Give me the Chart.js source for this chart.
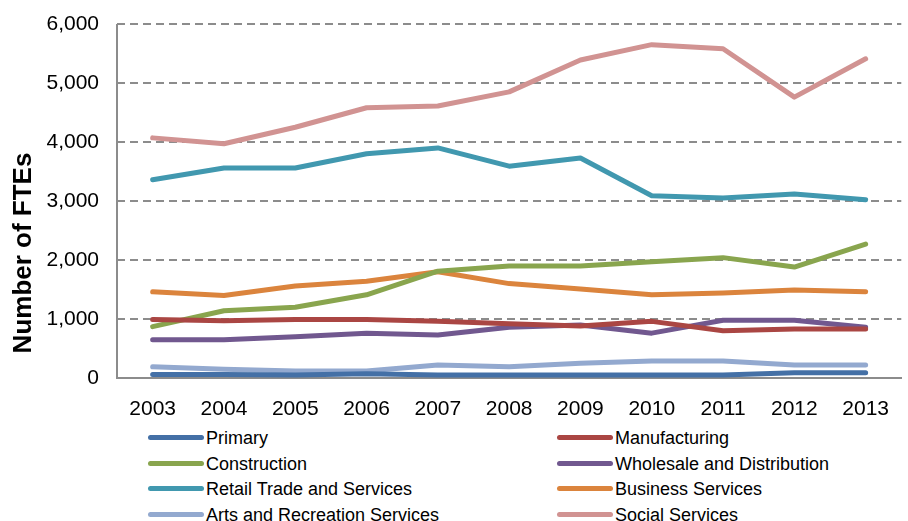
<!DOCTYPE html>
<html>
<head>
<meta charset="utf-8">
<script src="https://cdn.jsdelivr.net/npm/chart.js@4.4.0/dist/chart.umd.min.js"></script>
<style>
  body { margin: 0; background: #fff; font-family: "Liberation Sans", Arial, sans-serif; }
  #wrap { position: relative; width: 908px; height: 521px; }
  #chartBox { position: absolute; left: 0; top: 0; width: 908px; height: 420px; }
  #legend { position: absolute; left: 0; top: 428px; width: 908px; }
  .item { position: absolute; height: 20px; font-size: 18px; color: #000; white-space: nowrap; }
  .item span.swatch { position: absolute; left: 0; top: 7px; width: 56px; height: 5px; border-radius: 3px; }
  .item span.txt { position: absolute; left: 58px; top: 0; line-height: 20px; }
</style>
</head>
<body>
<div id="wrap">
  <div id="chartBox"><canvas id="myChart"></canvas></div>
  <div id="legend"></div>
</div>
<script>
// years on the x axis
const years = ['2003','2004','2005','2006','2007','2008','2009','2010','2011','2012','2013'];

// series values (FTEs)
const primary       = [60, 60, 50, 70, 50, 50, 50, 50, 50, 90, 90];
const manufacturing = [990, 970, 990, 990, 960, 920, 880, 960, 800, 830, 830];
const construction  = [870, 1140, 1200, 1410, 1810, 1900, 1900, 1970, 2040, 1880, 2270];
const wholesale     = [650, 650, 700, 760, 730, 860, 900, 760, 980, 980, 860];
const retail        = [3360, 3560, 3560, 3800, 3900, 3590, 3730, 3090, 3050, 3120, 3020];
const business      = [1460, 1400, 1560, 1640, 1800, 1600, 1510, 1410, 1440, 1490, 1460];
const arts          = [190, 150, 120, 120, 220, 190, 250, 290, 290, 220, 220];
const social        = [4070, 3970, 4250, 4580, 4610, 4850, 5390, 5650, 5580, 4760, 5410];

const seriesNames = ['Primary','Manufacturing','Construction','Wholesale and Distribution',
  'Retail Trade and  Services','Business Services','Arts and Recreation Services','Social Services'];
const seriesData = [primary, manufacturing, construction, wholesale, retail, business, arts, social];
const colors = ['#4470a6','#aa4643','#89a54e','#71588f','#4198af','#db843d','#93a9cf','#d19392'];

const yTicks = [0, 1000, 2000, 3000, 4000, 5000, 6000];
const yTitle = 'Number of FTEs';

const datasets = seriesNames.map(function(name, i) {
  return {
    label: name,
    data: seriesData[i],
    borderColor: colors[i],
    backgroundColor: colors[i],
    borderWidth: 5,
    pointRadius: 0,
    tension: 0,
    fill: false,
    order: i,
    borderCapStyle: 'round',
    borderJoinStyle: 'round'
  };
});

const ctx = document.getElementById('myChart').getContext('2d');
const fontFam = '"Liberation Sans", Arial, sans-serif';
const axisGray = '#8c8c8c';

// y axis title, drawn a bit below the middle like the original
const yTitlePlugin = {
  id: 'yTitle',
  afterDraw: function(chart) {
    const c = chart.ctx;
    const a = chart.chartArea;
    c.save();
    c.translate(24, (a.top + a.bottom) / 2 + 52);
    c.rotate(-Math.PI / 2);
    c.font = 'bold 26px ' + fontFam;
    c.fillStyle = '#000';
    c.textAlign = 'center';
    c.textBaseline = 'middle';
    c.fillText(yTitle, 0, 0);
    c.restore();
  }
};

const config = {
  type: 'line',
  data: { labels: years, datasets: datasets },
  options: {
    responsive: false,
    maintainAspectRatio: false,
    animation: false,
    layout: { padding: { top: 24, right: 0, left: 0, bottom: 0 } },
    plugins: { legend: { display: false }, tooltip: { enabled: false } },
    scales: {
      x: {
        offset: true,
        grid: {
          offset: true,
          drawTicks: false,
          lineWidth: 2,
          // only the left edge line, acting as the solid y axis
          color: function(c) { return c.index === 0 ? axisGray : 'rgba(0,0,0,0)'; }
        },
        border: { display: true, color: axisGray, width: 2 },
        ticks: { color: '#000', font: { family: fontFam, size: 21 }, padding: 19, maxRotation: 0 },
        afterFit: function(scale) { scale.height = 42; }
      },
      y: {
        min: 0,
        max: 6000,
        afterBuildTicks: function(scale) { scale.ticks = yTicks.map(function(v) { return { value: v }; }); },
        grid: {
          drawTicks: false,
          lineWidth: 2,
          color: function(c) { return c.tick && c.tick.value === 0 ? 'rgba(0,0,0,0)' : axisGray; }
        },
        border: { display: false, dash: [8, 5] },
        ticks: {
          color: '#000',
          font: { family: fontFam, size: 21 },
          padding: 18,
          callback: function(v) { return Number(v).toLocaleString('en-US'); }
        },
        afterFit: function(scale) {
          scale.width = 117;
          scale.paddingTop = 0;
          scale.paddingBottom = 0;
        }
      }
    }
  },
  plugins: [yTitlePlugin]
};

const canvas = document.getElementById('myChart');
canvas.width = 908;
canvas.height = 420;
const myChart = new Chart(ctx, config);

// legend in two columns, built from the chart's datasets
const legend = document.getElementById('legend');
const colX = [148, 557];
const rowY = [0, 26, 51, 77];
myChart.data.datasets.forEach(function(d, i) {
  const div = document.createElement('div');
  div.className = 'item';
  div.style.left = colX[i % 2] + 'px';
  div.style.top = rowY[Math.floor(i / 2)] + 'px';
  div.innerHTML = '<span class="swatch" style="background:' + d.borderColor + '"></span><span class="txt"></span>';
  div.querySelector('.txt').textContent = d.label;
  legend.appendChild(div);
});
</script>
</body>
</html>
